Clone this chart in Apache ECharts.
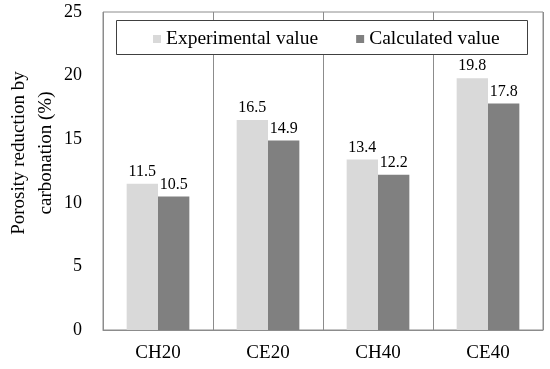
<!DOCTYPE html>
<html><head><meta charset="utf-8">
<script src="https://cdn.jsdelivr.net/npm/echarts@6/dist/echarts.min.js"></script>
<style>html,body{margin:0;padding:0;background:#fff}#c{width:550px;height:369px}</style>
</head><body><div id="c"></div>
<script>
const categories = ['CH20', 'CE20', 'CH40', 'CE40'];
const experimental = [11.5, 16.5, 13.4, 19.8];
const calculated = [10.5, 14.9, 12.2, 17.8];
const seriesNames = ['Experimental value', 'Calculated value'];
const yTitle = 'Porosity reduction by\ncarbonation (%)';
const FONT = '"Liberation Serif", "Times New Roman", serif';

const chart = echarts.init(document.getElementById('c'));
chart.setOption({
  animation: false,
  textStyle: { fontFamily: FONT },
  grid: { left: 103, right: 7, top: 12, bottom: 39, containLabel: false, outerBoundsMode: 'none', show: true, borderColor: '#8c8c8c', borderWidth: 1, backgroundColor: 'transparent' },
  graphic: [{
    type: 'rect', z: 50, left: 116, top: 20,
    shape: { width: 411, height: 34 },
    style: { fill: '#fff', stroke: '#404040', lineWidth: 1 }
  }],
  legend: {
    z: 60, top: 24, left: 148, itemGap: 38, itemWidth: 8, itemHeight: 8, icon: 'rect',
    textStyle: { fontFamily: FONT, fontSize: 19.5, color: '#000' },
    data: seriesNames
  },
  xAxis: {
    type: 'category', data: categories,
    axisLine: { show: true, lineStyle: { color: '#8c8c8c' } },
    axisTick: { show: false },
    axisLabel: { fontFamily: FONT, fontSize: 19, color: '#000', margin: 14 },
    splitLine: { show: true, lineStyle: { color: '#8c8c8c' } }
  },
  yAxis: {
    type: 'value', min: 0, max: 25, interval: 5,
    name: yTitle, nameLocation: 'middle', nameGap: 43, nameRotate: 90, nameMoveOverlap: false,
    nameTextStyle: { fontFamily: FONT, fontSize: 19, color: '#000', lineHeight: 27, padding: [0, 0, 0, 36] },
    axisLine: { show: false }, axisTick: { show: false },
    axisLabel: { fontFamily: FONT, fontSize: 18, color: '#000', margin: 21 },
    splitLine: { show: false }
  },
  series: [
    { name: seriesNames[0], type: 'bar', data: experimental, barGap: '0%', barCategoryGap: '43%',
      itemStyle: { color: '#d9d9d9' },
      label: { show: true, position: 'top', fontFamily: FONT, fontSize: 16, color: '#000', distance: 4 } },
    { name: seriesNames[1], type: 'bar', data: calculated,
      itemStyle: { color: '#808080' },
      label: { show: true, position: 'top', fontFamily: FONT, fontSize: 16, color: '#000', distance: 4 } }
  ]
});
</script></body></html>
